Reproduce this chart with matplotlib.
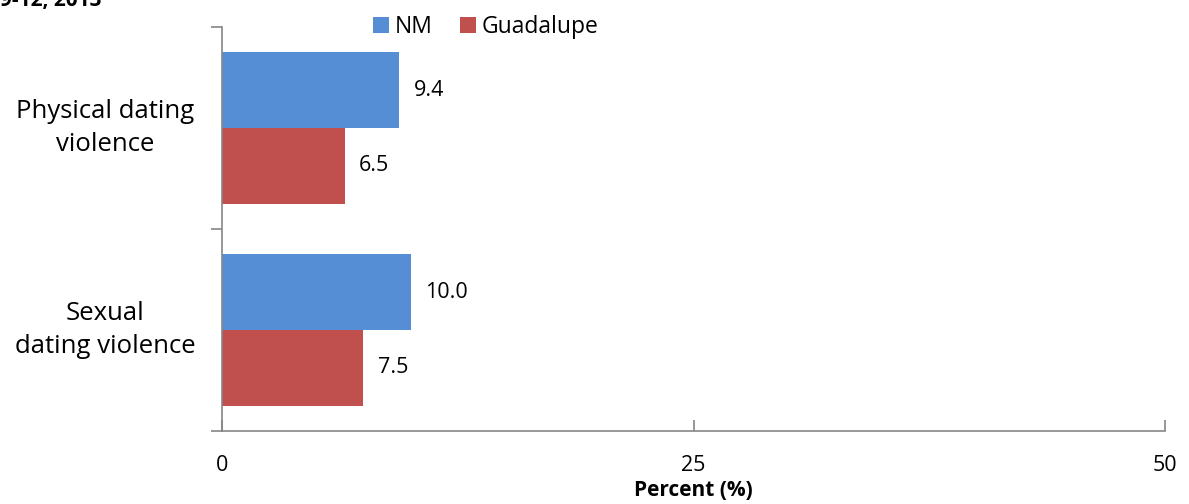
import numpy as np
import matplotlib.pyplot as plt
import matplotlib.transforms as mtransforms

plt.rcParams['font.family'] = ['Open Sans', 'DejaVu Sans']

# 数据
categories = ['Physical dating\nviolence', 'Sexual\ndating violence']
series_names = ['NM', 'Guadalupe']
nm_values = [9.4, 10.0]
guad_values = [6.5, 7.5]
x_ticks = [0, 25, 50]

colors = ['#558ED5', '#C0504D']

fig = plt.figure(figsize=(11.89, 5.04), dpi=100)
ax = fig.add_axes([222 / 1189, 1 - 431 / 504, (1165 - 222) / 1189, (431 - 27) / 504])

pos = np.arange(len(categories))
h = 0.376
ax.barh(pos - h / 2, nm_values, height=h, color=colors[0], label=series_names[0])
ax.barh(pos + h / 2, guad_values, height=h, color=colors[1], label=series_names[1])

# 数值标签
for p, v in zip(pos, nm_values):
    ax.text(v + 0.75, p - h / 2, f'{v:.1f}', va='center', ha='left', fontsize=15.5)
for p, v in zip(pos, guad_values):
    ax.text(v + 0.75, p + h / 2, f'{v:.1f}', va='center', ha='left', fontsize=15.5)

ax.set_xlim(0, 50)
ax.set_ylim(1.5, -0.5)

# 坐标轴样式
for s in ['top', 'right']:
    ax.spines[s].set_visible(False)
for s in ['left', 'bottom']:
    ax.spines[s].set_color('#868686')
    ax.spines[s].set_linewidth(1.2)

ax.set_xticks(x_ticks)
ax.set_xticklabels([str(t) for t in x_ticks], fontsize=15.5)
ax.tick_params(axis='x', direction='in', length=8, color='#868686', width=1.2, pad=17)

ax.set_yticks([-0.5, 0.5, 1.5])
ax.set_yticklabels([])
ax.tick_params(axis='y', direction='out', length=8, color='#868686', width=1.2)

# 类别标签
trans = mtransforms.blended_transform_factory(fig.transFigure, ax.transData)
for p, c in zip(pos, categories):
    fig.text(105 / 1189, p, c, transform=trans, fontsize=18.5, ha='center', va='center',
             multialignment='center', linespacing=1.45)

ax.set_xlabel('Percent (%)', fontsize=15, fontweight='bold', labelpad=3)

# 图例
ax.legend(loc='upper center', bbox_to_anchor=(486 / 1189, 1 - 4 / 504), bbox_transform=fig.transFigure,
          ncol=2, frameon=False, fontsize=16.5, handlelength=0.7, handleheight=0.7,
          handletextpad=0.25, columnspacing=1.2, borderaxespad=0.1)

# 被裁掉的标题
fig.text(0.0, 1 - 6 / 504, '9-12, 2013', fontsize=15, fontweight='bold', ha='left', va='baseline')

fig.savefig('out.png', dpi=100)
